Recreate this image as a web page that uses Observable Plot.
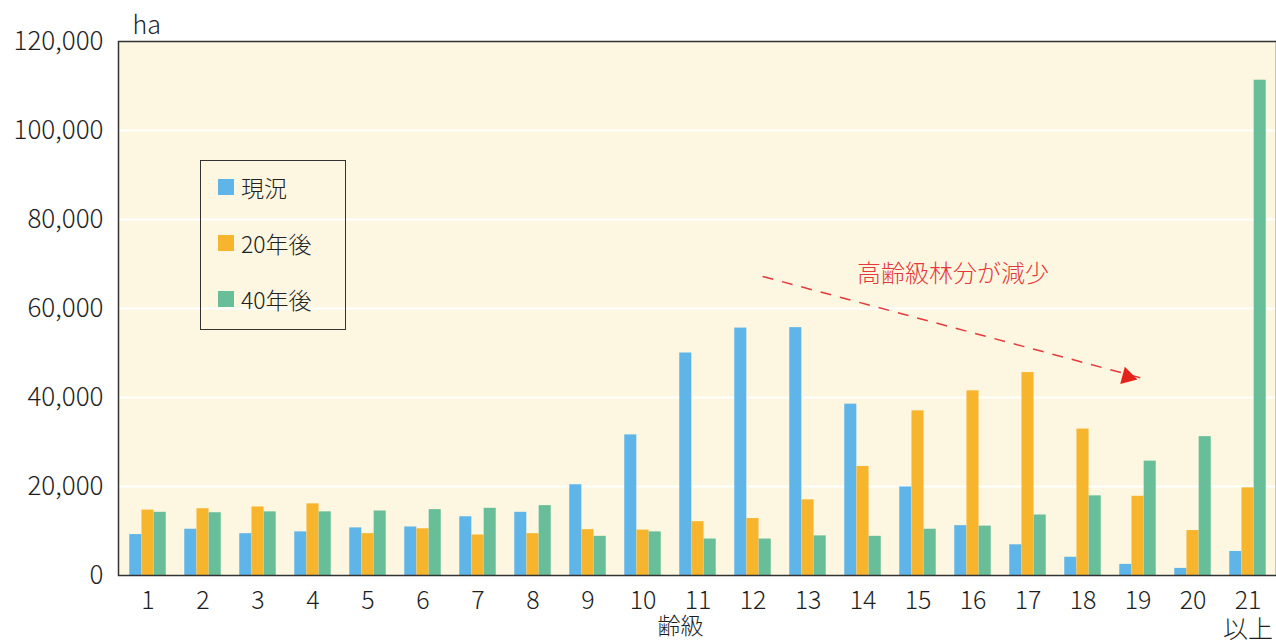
<!DOCTYPE html>
<html><head><meta charset="utf-8">
<script src="https://cdn.jsdelivr.net/npm/d3@7"></script>
<script src="https://cdn.jsdelivr.net/npm/@observablehq/plot@0.6"></script>
<style>
body{margin:0;background:#fff;font-family:"Noto Sans CJK JP","Noto Sans",sans-serif;}
#wrap{position:relative;width:1276px;height:640px;overflow:hidden}
#legend{position:absolute;left:200px;top:160px;width:146px;height:170px;border:1.5px solid #333;box-sizing:border-box;font-size:23px;color:#222;font-weight:300}
#legend .item{position:absolute;left:17px;display:flex;align-items:center;height:24px}
#legend .sw{width:16px;height:16px;margin-right:7px}
</style></head><body><div id="wrap"><div id="legend"></div></div>
<script>
const ageClasses = ["1","2","3","4","5","6","7","8","9","10","11","12","13","14","15","16","17","18","19","20","21"];
const seriesNames = ["現況","20年後","40年後"];
const current = [9200,10400,9400,9800,10700,10900,13200,14200,20400,31600,50000,55600,55700,38500,19900,11200,6900,4100,2500,1600,5400];
const after20 = [14700,15000,15400,16100,9400,10500,9100,9400,10300,10200,12100,12800,17000,24500,37000,41500,45600,32900,17800,10100,19700];
const after40 = [14200,14100,14300,14300,14500,14800,15100,15700,8800,9800,8200,8200,8900,8800,10400,11100,13600,17900,25700,31200,111300];
const seriesColors = ["#5fb5e8","#f7b52d","#67be98"];
const yTicks = [0,20000,40000,60000,80000,100000,120000];
const unitLabel = "ha";
const xLabel = "齢級";
const lastSuffix = "以上";
const noteText = "高齢級林分が減少";
const note = [{x:"16", y:67600}];
const arrowLine = [{x1:"12", y1:67200, x2:"19", y2:44000}];

const rows = ageClasses.map((a,i)=>({age:a, v:[current[i],after20[i],after40[i]]}));
const font = '"Noto Sans CJK JP","Noto Sans",sans-serif';
const barW = 12.2;

const barMarks = seriesNames.map((s,k)=>Plot.barY(rows,{
  x:"age", y:d=>d.v[k], fill:seriesColors[k],
  insetLeft:(55.14-barW)/2, insetRight:(55.14-barW)/2, dx:(k-1)*barW
}));

const chart = Plot.plot({
  width:1276, height:640,
  marginTop:41, marginBottom:65, marginLeft:118, marginRight:0,
  style:{fontFamily:font, fontSize:"24px", color:"#1e1e1e", fontWeight:300, background:"transparent"},
  x:{domain:ageClasses, padding:0, axis:null},
  y:{domain:[0,120000], axis:null},
  marks:[
    Plot.frame({fill:"#fdf7e1"}),
    Plot.ruleY(yTicks.slice(1,-1),{stroke:"#fff", strokeWidth:2}),
    ...barMarks,
    Plot.frame({stroke:"#333", strokeWidth:1.5}),
    Plot.axisY({ticks:yTicks, tickSize:0, tickPadding:15, tickFormat:d3.format(","), fontSize:26, label:null}),
    Plot.axisX({tickSize:0, tickPadding:13, fontSize:25, lineHeight:1.15, label:null,
      tickFormat:d=>d==="21" ? "21\n"+lastSuffix : d}),
    Plot.text([xLabel],{frameAnchor:"bottom", dx:-17, dy:51, lineAnchor:"middle", fontSize:23}),
    Plot.text([unitLabel],{frameAnchor:"top-left", textAnchor:"start", lineAnchor:"middle", dx:14, dy:-16, fontSize:25}),
    Plot.text(note,{x:"x", y:"y", text:()=>noteText, dx:-20, fill:"#e4393c", fontSize:24, lineAnchor:"middle"}),
    Plot.link(arrowLine,{x1:"x1", y1:"y1", x2:"x2", y2:"y2", dx:9.6, stroke:"#e4393c", strokeWidth:1.5, strokeDasharray:"11,9"}),
    Plot.dot(arrowLine,{x:"x2", y:"y2", dx:-10.5, dy:-2.9, symbol:"triangle2", r:8.5, rotate:105, fill:"#e4241c", stroke:"none"})
  ]
});
document.getElementById("wrap").prepend(chart);

const lg = document.getElementById("legend");
seriesNames.forEach((s,k)=>{
  const it = document.createElement("div");
  it.className = "item";
  it.style.top = (14 + k*56) + "px";
  it.innerHTML = `<span class="sw" style="background:${seriesColors[k]}"></span><span>${s}</span>`;
  lg.appendChild(it);
});
</script></body></html>
